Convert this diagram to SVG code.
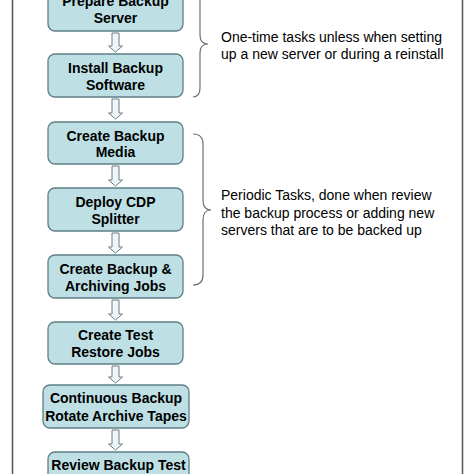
<svg xmlns="http://www.w3.org/2000/svg" width="474" height="474" viewBox="0 0 474 474">
<style>
.box{fill:#bee0e5;stroke:#5f7f86;stroke-width:1.3}
.bt{font-family:"Liberation Sans",Arial,sans-serif;font-size:14px;font-weight:bold;fill:#000;text-anchor:middle}
.nt{font-family:"Liberation Sans",Arial,sans-serif;font-size:14px;fill:#000}
.arr{fill:#eef6f7;stroke:#6a7f86;stroke-width:1}
.brace{fill:none;stroke:#707070;stroke-width:1.2}
</style>
<rect x="0" y="0" width="474" height="474" fill="#fff"/>
<rect x="12.5" y="-6" width="450" height="486" fill="none" stroke="#555" stroke-width="1.5"/>
<g id="connectors">
<path class="arr" d="M112,33 h7 v13 h3.5 l-7,6 l-7,-6 h3.5 z"/>
<path class="arr" d="M112,99 h7 v14 h3.5 l-7,6 l-7,-6 h3.5 z"/>
<path class="arr" d="M112,166 h7 v14 h3.5 l-7,6 l-7,-6 h3.5 z"/>
<path class="arr" d="M112,233 h7 v14 h3.5 l-7,6 l-7,-6 h3.5 z"/>
<path class="arr" d="M112,300 h7 v14 h3.5 l-7,6 l-7,-6 h3.5 z"/>
<path class="arr" d="M112,366 h7 v11 h3.5 l-7,6 l-7,-6 h3.5 z"/>
<path class="arr" d="M112,430 h7 v14 h3.5 l-7,6 l-7,-6 h3.5 z"/>
</g>
<g id="n1"><rect class="box" x="48" y="-13" width="135" height="44" rx="7"/><text class="bt" x="115.5" y="6">Prepare Backup</text><text class="bt" x="115.5" y="23">Server</text></g>
<g id="n2"><rect class="box" x="48" y="54" width="135" height="43" rx="7"/><text class="bt" x="115.5" y="73">Install Backup</text><text class="bt" x="115.5" y="90">Software</text></g>
<g id="n3"><rect class="box" x="48" y="122" width="135" height="42" rx="7"/><text class="bt" x="115.5" y="141">Create Backup</text><text class="bt" x="115.5" y="157">Media</text></g>
<g id="n4"><rect class="box" x="48" y="188" width="135" height="43" rx="7"/><text class="bt" x="115.5" y="207">Deploy CDP</text><text class="bt" x="115.5" y="224">Splitter</text></g>
<g id="n5"><rect class="box" x="48" y="255" width="135" height="43" rx="7"/><text class="bt" x="115.5" y="274">Create Backup &amp;</text><text class="bt" x="115.5" y="291">Archiving Jobs</text></g>
<g id="n6"><rect class="box" x="48" y="322" width="135" height="42" rx="7"/><text class="bt" x="115.5" y="340">Create Test</text><text class="bt" x="115.5" y="357">Restore Jobs</text></g>
<g id="n7"><rect class="box" x="43" y="385" width="146" height="43" rx="7"/><text class="bt" x="116" y="403">Continuous Backup</text><text class="bt" x="116" y="421">Rotate Archive Tapes</text></g>
<g id="n8"><rect class="box" x="48" y="452" width="141" height="43" rx="7"/><text class="bt" x="118.5" y="470">Review Backup Test</text></g>
<g id="brace1"><path class="brace" d="M193,-9 Q200,-9 200,1 L200,35 Q200,44 208,44 Q200,44 200,53 L200,88 Q200,97 193,97"/>
<text class="nt" x="221" y="42">One-time tasks unless when setting</text><text class="nt" x="221" y="59">up a new server or during a reinstall</text></g>
<g id="brace2"><path class="brace" d="M193,134 Q203,134 203,144 L203,200 Q203,210 211,210 Q203,210 203,220 L203,275 Q203,285 193,285"/>
<text class="nt" x="221" y="200">Periodic Tasks, done when review</text><text class="nt" x="221" y="217.5">the backup process or adding new</text><text class="nt" x="221" y="235">servers that are to be backed up</text></g>
</svg>
